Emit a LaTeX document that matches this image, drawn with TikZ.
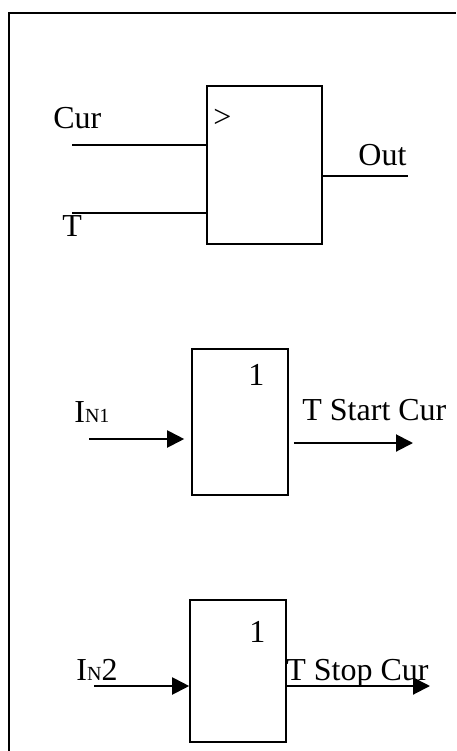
\documentclass[tikz,border=0pt]{standalone}
\usepackage{fontspec}
\setmainfont{Liberation Serif}
\usepackage{tikz}
\usetikzlibrary{arrows.meta, positioning, calc}

\begin{document}
\begin{tikzpicture}[
  x=0.5pt, y=-0.5pt,
  blk/.style={draw, line width=0.8pt, inner sep=0pt},
  lbl/.style={anchor=base west, inner sep=0pt, font=\fontsize{16}{19}\selectfont},
  wire/.style={line width=0.8pt},
  arr/.style={-{Triangle[length=8.5pt, width=8.5pt]}, line width=1pt}
]
\useasboundingbox (0,0) rectangle (456,751);
\draw[line width=1.2pt] (9,751) -- (9,13) -- (456,13);

% comparator
\node[blk, minimum width=57.5pt, minimum height=79pt] (cmp) at (264.5,165) {};
\node[lbl] (gt) at (213,127) {>};
\node[lbl] (cur) at (53,128) {Cur};
\node[lbl] (tin) at (62,236) {T};
\node[lbl] (out) at (358,165) {Out};
\coordinate (curin) at (72,145);
\coordinate (tinx) at (72,213);
\coordinate (outend) at (408,176);
\draw[wire] (curin) -- (curin -| cmp.west);
\draw[wire] (tinx) -- (tinx -| cmp.west);
\draw[wire] (cmp.east |- outend) -- (outend);

% first 1-block
\node[blk, minimum width=48pt, minimum height=73pt] (one1) at (240,422) {};
\node[lbl] (n1) at (248,385) {1};
\node[lbl] (in1) at (74,422) {I{\fontsize{10}{11}\selectfont N1}};
\node[lbl] (tstart) at (302,420) {T Start Cur};
\coordinate (in1a) at (89,439);
\coordinate (out1) at (413,443);
\draw[arr, shorten >=3.5pt] (in1a) -- (in1a -| one1.west);
\draw[arr, shorten <=2.5pt] (one1.east |- out1) -- (out1);

% second 1-block
\node[blk, minimum width=48pt, minimum height=71pt] (one2) at (238,671) {};
\node[lbl] (n2) at (249,642) {1};
\node[lbl] (in2) at (76,680) {I{\fontsize{10}{11}\selectfont N}2};
\node[lbl] (tstop) at (286,680) {T Stop Cur};
\coordinate (in2a) at (94,686);
\coordinate (out2) at (430,686);
\draw[arr] (in2a) -- (in2a -| one2.west);
\draw[arr] (one2.east |- out2) -- (out2);
\end{tikzpicture}
\end{document}
